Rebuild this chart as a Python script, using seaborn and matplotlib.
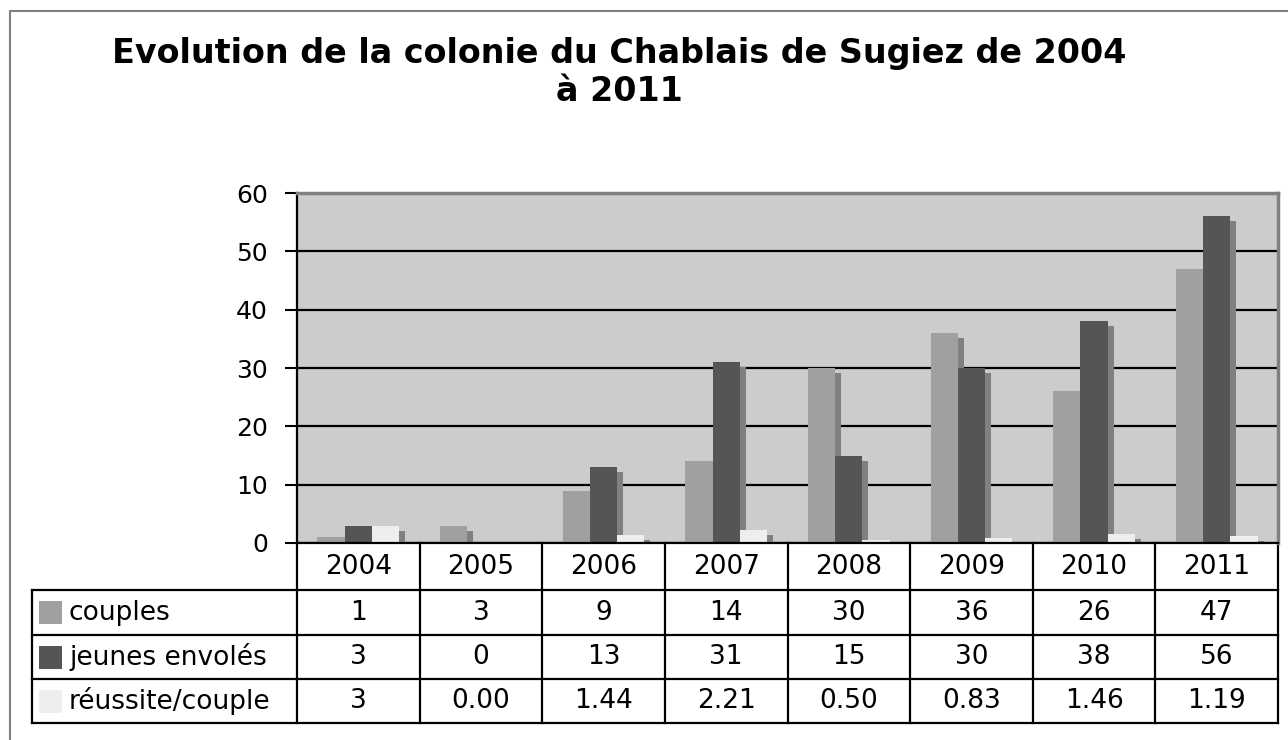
import numpy as np
import pandas as pd
import matplotlib
matplotlib.use('Agg')
import matplotlib.pyplot as plt
import matplotlib.transforms as mtransforms
from matplotlib.patches import Rectangle
import seaborn as sns

# donnees
years = ['2004', '2005', '2006', '2007', '2008', '2009', '2010', '2011']
couples = [1, 3, 9, 14, 30, 36, 26, 47]
jeunes = [3, 0, 13, 31, 15, 30, 38, 56]
reussite = [3, 0.00, 1.44, 2.21, 0.50, 0.83, 1.46, 1.19]
reussite_labels = ['3', '0.00', '1.44', '2.21', '0.50', '0.83', '1.46', '1.19']
series = ['couples', 'jeunes envolés', 'réussite/couple']
colors = ['#a0a0a0', '#555555', '#eeeeee']

df = pd.DataFrame({
    'year': years * 3,
    'value': couples + jeunes + reussite,
    'serie': [s for s in series for _ in years],
})

sns.set_style('white')
plt.rcParams['font.family'] = ['DejaVu Sans']
plt.rcParams['text.color'] = 'black'
plt.rcParams['ytick.color'] = 'black'
plt.rcParams['xtick.color'] = 'black'

fig = plt.figure(figsize=(12.88, 7.40), dpi=100)
ax = fig.add_axes([297 / 1288, 1 - 543 / 740, 981 / 1288, 350 / 740])
ax.set_facecolor('#cccccc')

# ombres (effet 3D) : memes barres, decalees de 6px a droite et 5px vers le bas
n0 = len(ax.patches)
sns.barplot(data=df, x='year', y='value', hue='serie', hue_order=series,
            palette=['#808080'] * 3, saturation=1, width=2 / 3,
            legend=False, linewidth=0, ax=ax)
shadow_tr = mtransforms.offset_copy(ax.transData, fig=fig, x=6, y=-5, units='dots')
for p in ax.patches[n0:]:
    p.set_transform(shadow_tr)
sns.barplot(data=df, x='year', y='value', hue='serie', hue_order=series,
            palette=colors, saturation=1, width=2 / 3,
            legend=False, linewidth=0, ax=ax)

ax.set_xlim(-0.5, len(years) - 0.5)
ax.set_ylim(0, 60)
ax.set_yticks(range(0, 61, 10))
ax.yaxis.grid(True, color='black', linewidth=1.6)
ax.set_axisbelow(True)
ax.set_xlabel('')
ax.set_ylabel('')
ax.tick_params(axis='x', length=0, labelbottom=False)
ax.tick_params(axis='y', left=True, length=9, width=1.5, color='black',
               labelcolor='black', labelsize=18, pad=12)
for s in ['left', 'bottom']:
    ax.spines[s].set_color('black')
    ax.spines[s].set_linewidth(1.6)
for s in ['top', 'right']:
    ax.spines[s].set_color('#808080')
    ax.spines[s].set_linewidth(2.5)

# tableau de donnees sous le graphique
rows_px = [543, 590, 635, 679, 723]
rows = [(543 - r) / 350 for r in rows_px]
left_tab = (32 - 297) / 981
trans = mtransforms.blended_transform_factory(ax.transData, ax.transAxes)
lkw = dict(color='black', linewidth=1.6, clip_on=False, solid_capstyle='projecting')
for k in range(len(years) + 1):
    ax.plot([k - 0.5, k - 0.5], [rows[0], rows[-1]], transform=trans, **lkw)
for r in rows[1:]:
    ax.plot([left_tab, 1], [r, r], transform=ax.transAxes, **lkw)
ax.plot([left_tab, left_tab], [rows[1], rows[-1]], transform=ax.transAxes, **lkw)

tkw = dict(ha='center', va='center', fontsize=19, color='black',
           transform=trans, clip_on=False)
for i, y in enumerate(years):
    ax.text(i, (rows[0] + rows[1]) / 2, y, **tkw)
    ax.text(i, (rows[1] + rows[2]) / 2, str(couples[i]), **tkw)
    ax.text(i, (rows[2] + rows[3]) / 2, str(jeunes[i]), **tkw)
    ax.text(i, (rows[3] + rows[4]) / 2, reussite_labels[i], **tkw)

sq_w = 23 / 981
sq_h = 23 / 350
for j, name in enumerate(series):
    yc = (rows[j + 1] + rows[j + 2]) / 2
    ax.add_patch(Rectangle(((39 - 297) / 981, yc - sq_h / 2), sq_w, sq_h,
                           facecolor=colors[j], edgecolor='none',
                           transform=ax.transAxes, clip_on=False))
    ax.text((69 - 297) / 981, yc, name, ha='left', va='center', fontsize=19,
            color='black', transform=ax.transAxes, clip_on=False)

fig.text(619 / 1288, 1 - 37 / 740,
         'Evolution de la colonie du Chablais de Sugiez de 2004\nà 2011',
         ha='center', va='top', fontsize=24, fontweight='bold',
         color='black', linespacing=1.2)

# cadre du graphique
fig.add_artist(plt.Line2D([10 / 1288, 10 / 1288], [0, 1 - 11 / 740],
                          transform=fig.transFigure, color='#808080', linewidth=1.5))
fig.add_artist(plt.Line2D([10 / 1288, 1], [1 - 11 / 740, 1 - 11 / 740],
                          transform=fig.transFigure, color='#808080', linewidth=1.5))

fig.savefig('out.png', dpi=100, facecolor='white')
